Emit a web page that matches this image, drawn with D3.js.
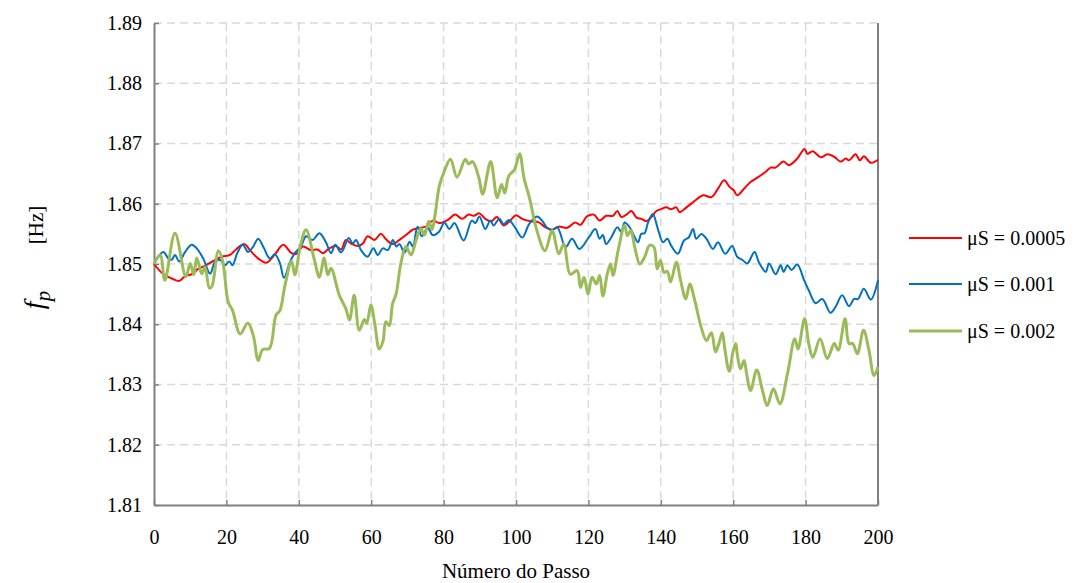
<!DOCTYPE html>
<html>
<head>
<meta charset="utf-8">
<script src="https://cdn.jsdelivr.net/npm/d3@7/dist/d3.min.js"></script>
<style>
  html, body { margin: 0; padding: 0; background: #fff; }
  svg text { font-family: "Liberation Serif", "Times New Roman", serif; fill: #000; }
</style>
</head>
<body>
<svg id="chart" width="1092" height="583"></svg>
<script>
// Peak frequency f_p versus step number, for three values of μS
const xTicks = [0, 20, 40, 60, 80, 100, 120, 140, 160, 180, 200];
const yTicks = [1.81, 1.82, 1.83, 1.84, 1.85, 1.86, 1.87, 1.88, 1.89];
const seriesNames = ["μS = 0.0005", "μS = 0.001", "μS = 0.002"];

// [step, f_p] pairs
const red0005 = [[0,1.85],[2.6,1.8483],[4.9,1.8476],[7,1.8472],[8.6,1.848],[10.4,1.8483],[12.2,1.8492],[14.1,1.8497],[16.4,1.8505],[18.7,1.8512],[21,1.8515],[22.8,1.8525],[25,1.8533],[26.5,1.8523],[28.8,1.8509],[31,1.8502],[33.4,1.8516],[35.7,1.8532],[38,1.8518],[39.4,1.8517],[41.1,1.8529],[43.4,1.8523],[45.2,1.8524],[46.6,1.8518],[48.4,1.8526],[50.3,1.853],[51.7,1.8524],[53,1.854],[54.4,1.8534],[56.3,1.853],[57.7,1.8534],[59,1.8546],[60.9,1.854],[62.7,1.855],[64.1,1.8541],[65.9,1.8533],[67.8,1.854],[69.6,1.8548],[71.5,1.8557],[73.3,1.856],[75.1,1.8562],[77,1.8572],[78.8,1.8568],[81.1,1.8573],[83.2,1.8582],[85.1,1.8575],[86.9,1.8582],[88.3,1.858],[89.9,1.8584],[91.5,1.8575],[93.2,1.8571],[94.7,1.8578],[96.6,1.8564],[98.4,1.8572],[100,1.8581],[101.7,1.8575],[104,1.8571],[106.3,1.8569],[108.1,1.8561],[110,1.8557],[111.8,1.8562],[114.1,1.856],[116.4,1.8569],[117.8,1.8565],[119.6,1.8579],[121.5,1.8582],[123.1,1.8572],[124.9,1.858],[126.8,1.858],[128,1.8588],[129.1,1.8578],[130.5,1.8582],[131.9,1.8588],[133.3,1.8577],[134.6,1.8575],[136,1.8571],[137.4,1.8578],[138.8,1.8588],[140.1,1.8591],[141.5,1.8594],[142.9,1.8591],[144.3,1.8594],[145.2,1.8586],[147.1,1.8594],[149.4,1.8605],[151.7,1.8614],[154,1.8611],[155.8,1.8625],[157.5,1.8639],[159,1.8628],[160.2,1.8622],[161.1,1.8614],[163,1.8625],[164.8,1.8636],[167.1,1.8645],[169,1.8653],[170.3,1.866],[171.7,1.866],[173.9,1.867],[175.4,1.8664],[177.7,1.8675],[179.7,1.8691],[180.5,1.8683],[182,1.8687],[184.2,1.8677],[186,1.8682],[187.9,1.8678],[189.7,1.867],[191.1,1.8675],[192,1.8672],[193.8,1.8682],[195,1.8672],[196.1,1.8679],[198,1.8668],[200,1.8673]];

const blue001 = [[0,1.85],[1.2,1.8512],[2.6,1.852],[4,1.8509],[4.9,1.8507],[5.8,1.8515],[7,1.8504],[8.6,1.852],[10.4,1.8532],[11.8,1.8526],[13.6,1.8509],[15.5,1.8484],[16.9,1.8504],[18.2,1.8507],[19.6,1.8498],[20.8,1.8504],[21.7,1.8498],[23,1.8518],[24.5,1.8532],[26,1.852],[27.4,1.8529],[28.8,1.8542],[30.4,1.8526],[32,1.8509],[33.4,1.8516],[34.8,1.8501],[35.9,1.8477],[37.6,1.8504],[38.9,1.8518],[40.6,1.8529],[42,1.8546],[43.8,1.854],[45.7,1.8551],[47.5,1.8536],[48.9,1.8518],[50.1,1.8532],[51.7,1.8519],[53.8,1.8543],[54.9,1.8534],[55.8,1.854],[57.2,1.8523],[59,1.8512],[60.6,1.8526],[61.8,1.8515],[63.2,1.8526],[64.6,1.8523],[66,1.854],[66.9,1.8529],[67.8,1.8533],[69.2,1.8519],[70.6,1.8537],[71.5,1.8529],[72.8,1.8562],[74,1.8546],[75.6,1.856],[77,1.8548],[78.8,1.8554],[80.2,1.8569],[81.6,1.8558],[83,1.8568],[85.5,1.8539],[87.8,1.8572],[88.8,1.8568],[89.9,1.8579],[91.5,1.8558],[92.9,1.8572],[93.8,1.8564],[95.4,1.8575],[96.6,1.8566],[98,1.8573],[99.6,1.8562],[101.7,1.8544],[103.7,1.8567],[105.8,1.8579],[107.2,1.8572],[108.6,1.856],[110,1.8556],[111.4,1.8561],[113.7,1.8528],[115.5,1.8542],[117.5,1.8525],[120.1,1.8544],[121.9,1.8558],[123.1,1.8542],[124,1.8548],[124.9,1.8533],[126.3,1.8544],[128,1.8561],[129.1,1.8553],[130,1.8569],[131.4,1.8561],[132.6,1.8547],[133.7,1.8536],[134.6,1.855],[135.5,1.8551],[136.5,1.8569],[137.8,1.8583],[139.2,1.8558],[140.6,1.8536],[141.8,1.8542],[142.9,1.853],[144.7,1.8517],[146.4,1.8539],[147.7,1.8544],[148.9,1.8558],[149.8,1.8542],[151.2,1.855],[152.6,1.8542],[154.4,1.8525],[155.8,1.8536],[157.8,1.8517],[159.7,1.853],[161.1,1.8512],[162.5,1.8507],[163.9,1.8501],[165.9,1.852],[167.1,1.8503],[169,1.8487],[169.9,1.8501],[171.7,1.8483],[173.1,1.8498],[173.9,1.8487],[175,1.8498],[176.1,1.849],[177.7,1.8499],[179.6,1.8473],[180.9,1.8456],[182.8,1.8435],[184.6,1.8442],[186.9,1.8419],[188.3,1.8429],[190.1,1.8448],[192,1.843],[193.4,1.8442],[194.5,1.8442],[196.1,1.8459],[198,1.8441],[200,1.8473]];

const green002 = [[0,1.85],[1.7,1.8515],[3,1.8473],[5.8,1.8551],[8.8,1.8479],[10,1.8501],[11,1.8482],[11.8,1.851],[13.2,1.8484],[14.1,1.8495],[15.3,1.846],[16,1.8463],[17.8,1.8522],[19,1.8504],[20.5,1.8437],[21.7,1.8423],[23.8,1.8384],[25.9,1.8402],[27.4,1.8382],[28.8,1.834],[30,1.8358],[31.9,1.836],[33.7,1.8415],[34.8,1.8423],[36.2,1.8465],[38,1.8505],[38.9,1.8482],[40.5,1.8532],[42,1.8557],[44.3,1.8507],[45.7,1.8478],[47,1.851],[48,1.8482],[48.9,1.8493],[51.2,1.8448],[53,1.8426],[54,1.8407],[55.3,1.8448],[56.7,1.839],[58.1,1.8408],[58.8,1.8402],[59.9,1.8432],[61.1,1.8396],[62.2,1.8359],[63.3,1.8373],[64,1.8404],[65,1.8398],[65.9,1.8434],[66.9,1.8451],[68.2,1.8501],[69.6,1.8529],[71,1.8515],[72.4,1.854],[73.7,1.8559],[74.7,1.8548],[75.9,1.8571],[76.8,1.8557],[77.7,1.8584],[78.8,1.8629],[80.2,1.8654],[81.9,1.8674],[83.7,1.8644],[86,1.8674],[86.9,1.8666],[88,1.867],[89.7,1.8644],[90.8,1.8616],[93,1.867],[94.8,1.861],[96,1.8632],[96.9,1.8618],[98,1.8646],[99.6,1.8657],[101,1.8683],[102.2,1.8643],[103.7,1.861],[105.8,1.8555],[108,1.8522],[110,1.8555],[111.8,1.8517],[113.2,1.8533],[115,1.8483],[116.9,1.8489],[117.8,1.8461],[118.8,1.8478],[119.9,1.845],[121,1.8478],[122.2,1.8467],[123.1,1.8481],[124,1.8447],[125.2,1.8483],[126.1,1.85],[126.8,1.8481],[128.2,1.8522],[130,1.8564],[130.8,1.8547],[131.7,1.8556],[132.8,1.8528],[134.2,1.85],[135.5,1.8511],[136.9,1.8531],[138.1,1.8528],[139,1.8492],[139.9,1.8506],[140.9,1.8486],[141.8,1.8488],[142.7,1.847],[144.3,1.8503],[145.5,1.8472],[146.9,1.8442],[148,1.8467],[149.4,1.8439],[151.2,1.8394],[152.6,1.8373],[154,1.8386],[155.1,1.8354],[156,1.8367],[157,1.8386],[157.7,1.8358],[158.9,1.8322],[160,1.8356],[160.7,1.8368],[161.1,1.8351],[162,1.8326],[163,1.834],[163.7,1.8318],[164.8,1.829],[166.5,1.8324],[168.1,1.829],[169.4,1.8265],[171.1,1.8293],[172.9,1.8268],[175,1.8318],[177,1.8376],[177.9,1.8359],[179.7,1.8409],[180.9,1.8367],[182,1.8345],[184,1.8376],[186,1.8343],[187.9,1.8368],[189,1.8357],[190.9,1.8409],[192,1.8368],[193,1.8368],[194.3,1.8351],[196,1.839],[197.5,1.8357],[198.9,1.8315],[200,1.8329]];

const series = [
  { name: seriesNames[0], data: red0005, color: "#FF0000", width: 2 },
  { name: seriesNames[1], data: blue001, color: "#0070C0", width: 2 },
  { name: seriesNames[2], data: green002, color: "#9BBB59", width: 3 }
];

const svg = d3.select("#chart");
const m = { left: 154, right: 878, top: 23, bottom: 505 };

const x = d3.scaleLinear().domain([0, 200]).range([m.left, m.right]);
const y = d3.scaleLinear().domain([1.81, 1.89]).range([m.bottom, m.top]);

const gridColor = "#D9D9D9";
const axisColor = "#808080";

// dashed gridlines
const grid = svg.append("g");
grid.selectAll("line.h").data(yTicks.filter(v => v > 1.81)).join("line")
  .attr("x1", m.left).attr("x2", m.right)
  .attr("y1", d => y(d)).attr("y2", d => y(d))
  .attr("stroke", gridColor).attr("stroke-width", 1.5).attr("stroke-dasharray", "8,5");
grid.selectAll("line.v").data(xTicks.filter(v => v > 0 && v < 200)).join("line")
  .attr("x1", d => x(d)).attr("x2", d => x(d))
  .attr("y1", m.top).attr("y2", m.bottom)
  .attr("stroke", gridColor).attr("stroke-width", 1.5).attr("stroke-dasharray", "8,5");

// axes
const yAxis = d3.axisLeft(y).tickValues(yTicks).tickFormat(d3.format(".2f")).tickSizeInner(-5).tickSizeOuter(0).tickPadding(12);
const xAxis = d3.axisBottom(x).tickValues(xTicks).tickFormat(d3.format("d")).tickSizeInner(-5).tickSizeOuter(0).tickPadding(25);

const gy = svg.append("g").attr("transform", `translate(${m.left},0)`).call(yAxis);
const gx = svg.append("g").attr("transform", `translate(0,${m.bottom})`).call(xAxis);
[gy, gx].forEach(g => {
  g.select(".domain").attr("stroke", axisColor).attr("stroke-width", 2);
  g.selectAll(".tick line").attr("stroke", axisColor).attr("stroke-width", 1.5);
  g.selectAll(".tick text").attr("font-size", 20).attr("font-family", "Liberation Serif, serif").attr("fill", "#000");
});
gx.selectAll(".tick text").attr("dy", "0.71em");

// right border
svg.append("line")
  .attr("x1", m.right).attr("x2", m.right).attr("y1", m.top).attr("y2", m.bottom)
  .attr("stroke", axisColor).attr("stroke-width", 2);

// series lines
const line = d3.line().x(d => x(d[0])).y(d => y(d[1])).curve(d3.curveCatmullRom.alpha(0.5));
svg.append("g").selectAll("path").data(series).join("path")
  .attr("d", d => line(d.data))
  .attr("fill", "none")
  .attr("stroke", d => d.color)
  .attr("stroke-width", d => d.width)
  .attr("stroke-linejoin", "round");

// axis titles
svg.append("text")
  .attr("x", (m.left + m.right) / 2).attr("y", 578)
  .attr("text-anchor", "middle").attr("font-size", 21)
  .text("Número do Passo");

// y title: italic f with subscript p, then the unit
const yt1 = svg.append("text")
  .attr("transform", "translate(43,300) rotate(-90)")
  .attr("text-anchor", "middle");
yt1.append("tspan").attr("font-style", "italic").attr("font-size", 28).text("f");
yt1.append("tspan").attr("font-style", "italic").attr("font-size", 21).attr("dy", 7).text("p");

svg.append("text")
  .attr("transform", "translate(43,225) rotate(-90)")
  .attr("text-anchor", "middle").attr("font-size", 21)
  .text("[Hz]");

// legend
const legend = svg.append("g");
const legendY = [238, 284, 331];
series.forEach((s, i) => {
  legend.append("line")
    .attr("x1", 909).attr("x2", 962).attr("y1", legendY[i]).attr("y2", legendY[i])
    .attr("stroke", s.color).attr("stroke-width", s.width);
  legend.append("text")
    .attr("x", 967).attr("y", legendY[i]).attr("dy", "0.35em")
    .attr("font-size", 20).text(s.name);
});
</script>
</body>
</html>
